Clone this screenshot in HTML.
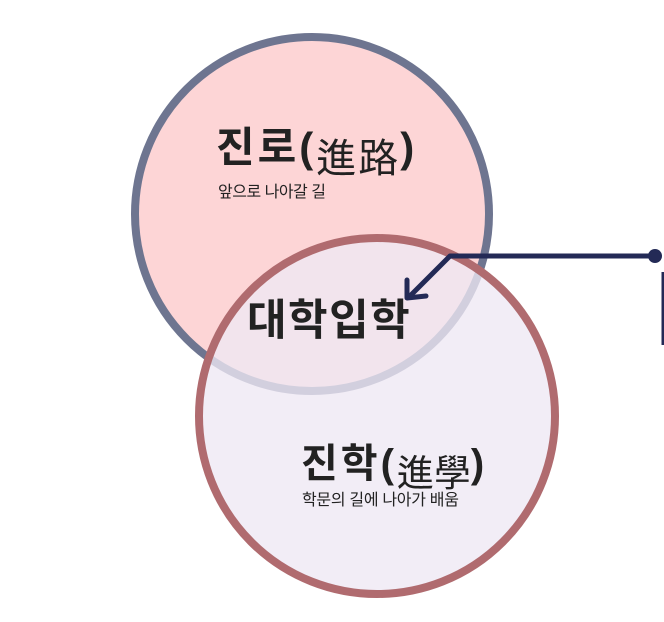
<!DOCTYPE html>
<html><head><meta charset="utf-8"><style>
body{margin:0;background:#fff;width:664px;height:622px;overflow:hidden;position:relative;font-family:"Liberation Sans","Noto Sans CJK KR",sans-serif}
.t{position:absolute;color:#222;white-space:nowrap}
</style></head><body>
<svg width="664" height="622" style="position:absolute;left:0;top:0">
<circle cx="312" cy="214" r="177" fill="#fdd5d6" stroke="#6e7590" stroke-width="8"/>
<circle cx="377" cy="416" r="178" fill="rgba(238,232,244,0.78)" stroke="#b06b6f" stroke-width="8"/>
<polyline points="655,256 450,256 410,296" fill="none" stroke="#232a56" stroke-width="5" stroke-linejoin="round"/>
<polyline points="407,280 407,298 426,296" fill="none" stroke="#232a56" stroke-width="5" stroke-linecap="round" stroke-linejoin="round"/>
<circle cx="655" cy="256" r="7" fill="#232a56"/>
<line x1="663" y1="272" x2="663" y2="345" stroke="#232a56" stroke-width="3"/>
</svg>
<div class="t" style="left:216px;top:124px;font-size:42px;font-weight:bold;line-height:48px;letter-spacing:3px">진로(<span style="font-weight:normal;font-size:40px;position:relative;top:10px;letter-spacing:2px">進路</span>)</div>
<div class="t" style="left:218px;top:178px;font-size:16px;letter-spacing:-0.5px">앞으로 나아갈 길</div>
<div class="t" style="left:247px;top:296px;font-size:43px;font-weight:bold;line-height:50px;letter-spacing:1.5px">대학입학</div>
<div class="t" style="left:301px;top:440px;font-size:40px;font-weight:bold;line-height:48px;letter-spacing:3px">진학(<span style="font-weight:normal;font-size:37px;position:relative;top:9px;letter-spacing:0">進學</span>)</div>
<div class="t" style="left:302px;top:486px;font-size:16px;letter-spacing:-0.3px">학문의 길에 나아가 배움</div>
</body></html>
